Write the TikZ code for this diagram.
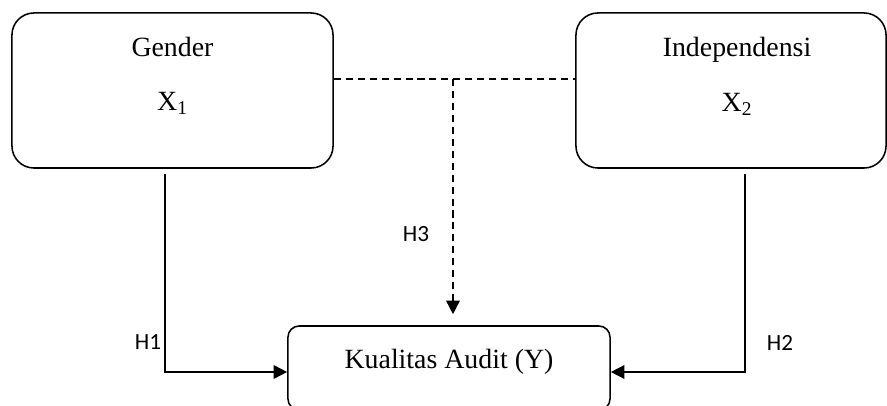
\documentclass[tikz,border=0pt]{standalone}
\usepackage{fontspec}
\setmainfont{Liberation Serif}
\newfontfamily\hypfont{Carlito}
\usetikzlibrary{arrows.meta,positioning}
\begin{document}
\begin{tikzpicture}[x=0.025cm,y=-0.025cm,line width=1.1pt,
    varbox/.style={draw,rounded corners=0.55cm,minimum width=#1,minimum height=3.875cm,inner sep=0pt},
    vartxt/.style={inner sep=0pt,anchor=base,font=\fontsize{19.8}{23}\selectfont},
    hyp/.style={inner sep=0pt,font=\hypfont\fontsize{16.5}{20}\selectfont},
    arr/.style={-{Triangle[length=0.34cm,width=0.34cm]}},
    dasharr/.style={arr,dash pattern=on 5pt off 3.5pt}]
\clip (0,0) rectangle (887,406);
\node[varbox=8.025cm] (gender) at (172.5,90.5) {};
\node[varbox=7.75cm] (indep) at (731,90.5) {};
\node[vartxt] (gendertxt) at ([shift={(0,44)}]gender.north) {Gender};
\node[vartxt] (x1) at ([shift={(0,98)}]gender.north) {X\textsubscript{1}};
\node[vartxt] (indeptxt) at ([shift={(6,44)}]indep.north) {Independensi};
\node[vartxt] (x2) at ([shift={(6,99)}]indep.north) {X\textsubscript{2}};
\node[draw,rounded corners=0.28cm,minimum width=8.05cm,inner sep=0pt,
      text height=1.05cm,text depth=1.05cm,font=\fontsize{19.8}{23}\selectfont] (kualitas) at (449,368) {Kualitas Audit (Y)};
\coordinate (split) at (453,79);
\draw[arr] ([shift={(-7.5,5)}]gender.south) |- ([shift={(0,4)}]kualitas.west);
\draw[arr] ([shift={(14,5)}]indep.south) |- ([shift={(0,4)}]kualitas.east);
\draw[dash pattern=on 5pt off 3.5pt] ([shift={(0,-11.5)}]gender.east) -- ([shift={(0,-11.5)}]indep.west);
\draw[dasharr,shorten >=0.275cm] (split) -- (split |- kualitas.north);
\node[hyp] (h1) at (148,342) {H1};
\node[hyp] (h2) at (780,343) {H2};
\node[hyp] (h3) at (416,234) {H3};
\end{tikzpicture}
\end{document}
